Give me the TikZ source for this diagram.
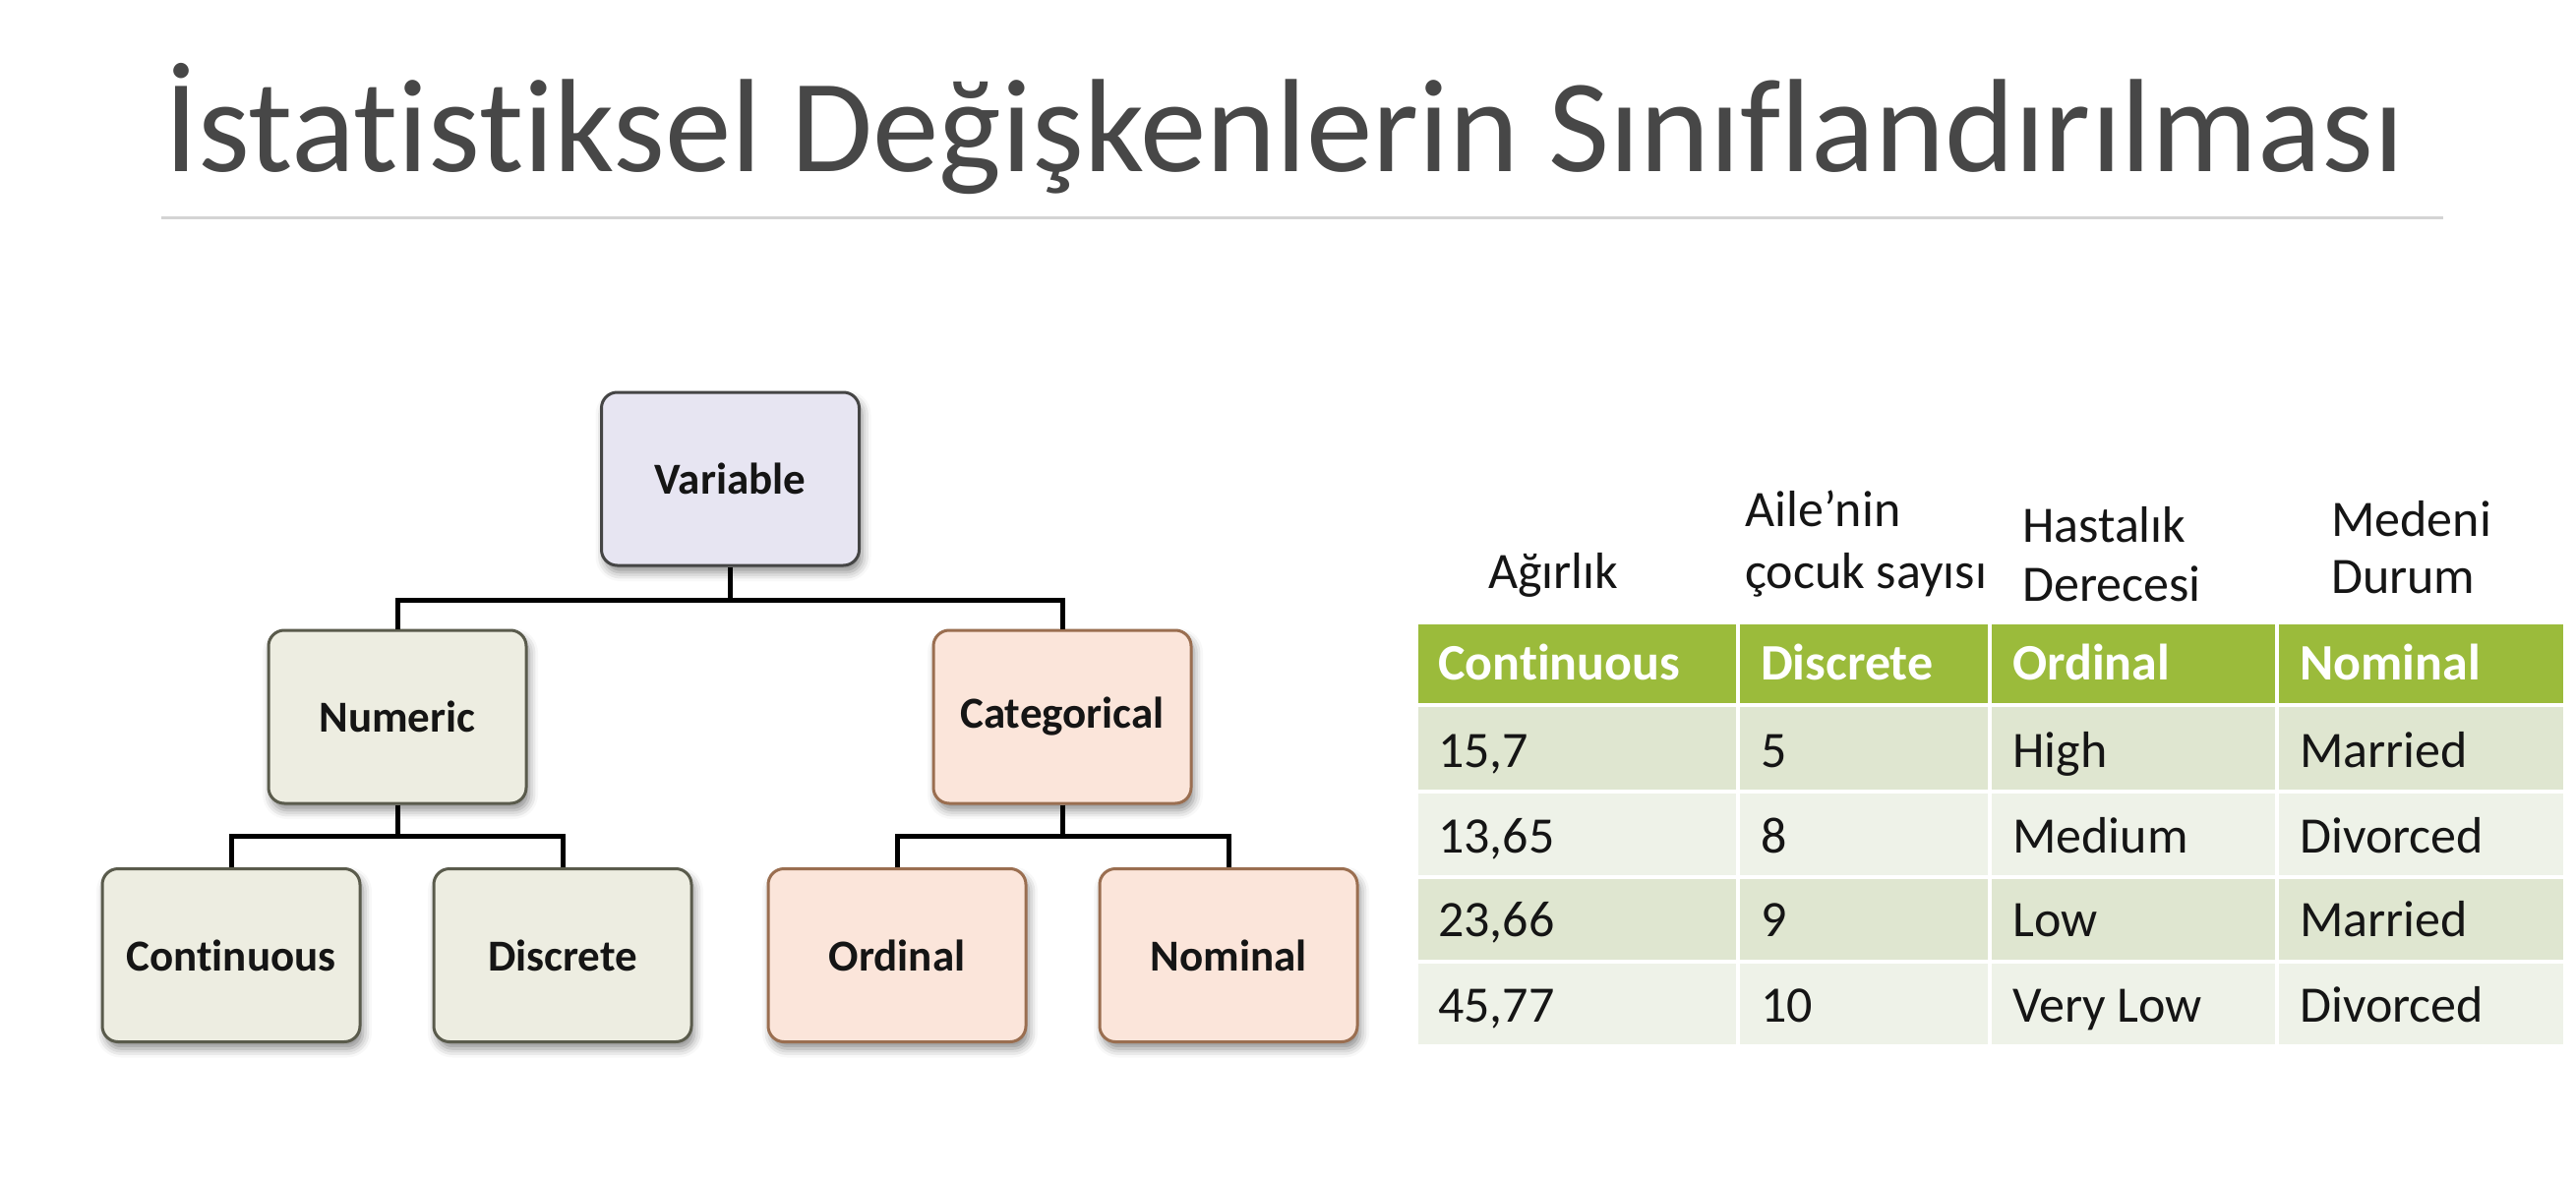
\documentclass[tikz,border=0pt]{standalone}
\usepackage{fontspec}
\setmainfont{Carlito}[Ligatures=NoCommon]
\usetikzlibrary{shadows.blur}

\definecolor{titlegray}{HTML}{474747}
\definecolor{rulegray}{HTML}{D4D4D4}
\definecolor{inkblack}{HTML}{151515}
\definecolor{varfill}{HTML}{E7E5F2}
\definecolor{varline}{HTML}{454545}
\definecolor{numfill}{HTML}{EDEDE1}
\definecolor{numline}{HTML}{5A5B4C}
\definecolor{catfill}{HTML}{FBE5DA}
\definecolor{catline}{HTML}{9A6E50}
\definecolor{hdrgreen}{HTML}{9BBB3B}
\definecolor{bandA}{HTML}{DFE6D0}
\definecolor{bandB}{HTML}{EEF2E8}

\begin{document}
\begin{tikzpicture}[x=1pt,y=-1pt,
  box/.style={rounded corners=16pt, line width=3pt,
    minimum width=262pt, minimum height=176pt, inner sep=0pt,
    font=\fontsize{45}{52}\selectfont\bfseries, text=inkblack,
    blur shadow={shadow xshift=3pt, shadow yshift=-7pt,
      shadow blur radius=9pt, shadow opacity=45}},
  varbox/.style={box, fill=varfill, draw=varline},
  numbox/.style={box, fill=numfill, draw=numline},
  catbox/.style={box, fill=catfill, draw=catline},
  conn/.style={draw=black, line width=5pt, line join=miter},
  cell/.style={anchor=base west, inner sep=0pt,
    font=\fontsize{52}{62}\selectfont, text=inkblack},
  hcell/.style={cell, font=\fontsize{52}{62}\selectfont\bfseries, text=white},
  label/.style={cell}
]
\useasboundingbox (0,0) rectangle (2619,1198);

% heading and rule
\node[anchor=base west, inner sep=0pt, font=\fontsize{135}{160}\selectfont,
      text=titlegray] (title) at (167,175)
      {İstatistiksel Değişkenlerin Sınıflandırılması};
\draw[rulegray, line width=3pt] (164,222) -- (2484,222);

% classification tree
\node[varbox] (var)  at (742.5,487)  {Variable};
\node[numbox] (num)  at (404,729)    {Numeric};
\node[catbox] (cat)  at (1080,729)   {Categorical};
\node[numbox] (cont) at (235,971.5)  {Continuous};
\node[numbox] (disc) at (572,971.5)  {Discrete};
\node[catbox] (ord)  at (912,971.5)  {Ordinal};
\node[catbox] (nom)  at (1249,971.5) {Nominal};

\coordinate (bus1) at (742.5,610);
\coordinate (bus2) at (404,850);
\coordinate (bus3) at (1080,850);
\draw[conn] (var.south) -- (bus1);
\draw[conn] (num.north) |- (bus1) -| (cat.north);
\draw[conn] (num.south) -- (bus2);
\draw[conn] (cont.north) |- (bus2) -| (disc.north);
\draw[conn] (cat.south) -- (bus3);
\draw[conn] (ord.north) |- (bus3) -| (nom.north);

% table cells
\foreach \ya/\yb/\c in {633/717/hdrgreen, 717/805/bandA, 805/892/bandB,
                        892/978/bandA, 978/1064/bandB} {
  \foreach \xa/\xb in {1440/1767, 1767/2023, 2023/2315, 2315/2608} {
    \path[fill=\c, draw=white, line width=4pt] (\xa,\ya) rectangle (\xb,\yb);
  }
}

% column captions
\node[label] (lw)  at (1513,598) {Ağırlık};
\node[label] (lc1) at (1774,535) {Aile’nin};
\node[label] (lc2) at (1774,598) {çocuk sayısı};
\node[label] (lh1) at (2056,551) {Hastalık};
\node[label] (lh2) at (2056,611) {Derecesi};
\node[label] (lm1) at (2370,545) {Medeni};
\node[label] (lm2) at (2370,603) {Durum};

% header row
\node[hcell] (h1) at (1462,691) {Continuous};
\node[hcell] (h2) at (1790,691) {Discrete};
\node[hcell] (h3) at (2046,691) {Ordinal};
\node[hcell] (h4) at (2338,691) {Nominal};

% data rows
\node[cell] (a1) at (1462,780) {15,7};
\node[cell] (b1) at (1790,780) {5};
\node[cell] (c1) at (2046,780) {High};
\node[cell] (d1) at (2338,780) {Married};

\node[cell] (a2) at (1462,867) {13,65};
\node[cell] (b2) at (1790,867) {8};
\node[cell] (c2) at (2046,867) {Medium};
\node[cell] (d2) at (2338,867) {Divorced};

\node[cell] (a3) at (1462,952) {23,66};
\node[cell] (b3) at (1790,952) {9};
\node[cell] (c3) at (2046,952) {Low};
\node[cell] (d3) at (2338,952) {Married};

\node[cell] (a4) at (1462,1039) {45,77};
\node[cell] (b4) at (1790,1039) {10};
\node[cell] (c4) at (2046,1039) {Very Low};
\node[cell] (d4) at (2338,1039) {Divorced};
\end{tikzpicture}
\end{document}
